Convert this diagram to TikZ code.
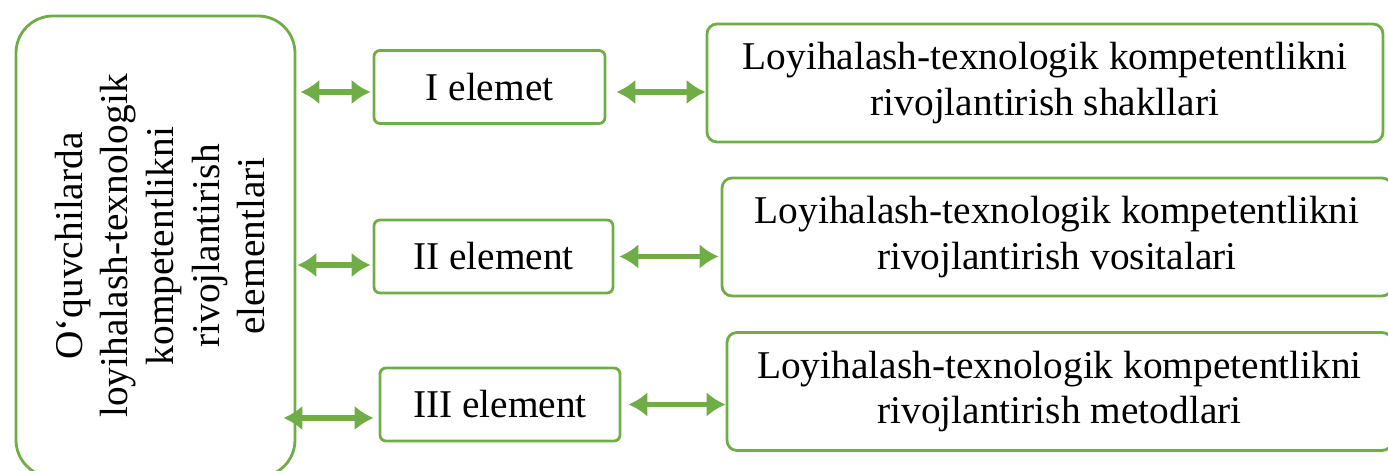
\documentclass[tikz,border=0pt]{standalone}
\usepackage{fontspec}
\setmainfont{Liberation Serif}
\usetikzlibrary{arrows.meta}
\definecolor{green}{RGB}{112,173,71}

\begin{document}
\begin{tikzpicture}[
    font=\fontsize{11.2}{13}\selectfont,
    mainbox/.style={draw=green, line width=0.8pt, rounded corners=0.37cm, minimum width=2.79cm, minimum height=4.61cm},
    elembox/.style={draw=green, line width=0.8pt, rounded corners=0.06cm, minimum height=0.73cm},
    waybox/.style={draw=green, line width=0.8pt, rounded corners=0.1cm, minimum height=1.18cm, align=center},
    link/.style={green, line width=1.6pt, {Latex[length=0.19cm,width=0.25cm]}-{Latex[length=0.19cm,width=0.25cm]}}
]
    \useasboundingbox (0,0) rectangle (13.88,4.71);
    % left column
    \node[mainbox] (main) at (1.555,2.245) {};
    \node[rotate=90, align=center] (maintext) at (1.60,2.25) {O‘quvchilarda\\loyihalash-texnologik\\kompetentlikni\\rivojlantirish\\elementlari};
    % elements
    \node[elembox, minimum width=2.31cm] (el1) at (4.895,3.84) {I elemet};
    \node[elembox, minimum width=2.39cm] (el2) at (4.935,2.145) {II element};
    \node[elembox, minimum width=2.40cm] (el3) at (5.00,0.665) {III element};
    % forms, tools, methods
    \node[waybox, minimum width=6.76cm] (way1) at (10.45,3.88) {Loyihalash-texnologik kompetentlikni\\rivojlantirish shakllari};
    \node[waybox, minimum width=6.70cm] (way2) at (10.57,2.34) {Loyihalash-texnologik kompetentlikni\\rivojlantirish vositalari};
    \node[waybox, minimum width=6.65cm] (way3) at (10.595,0.795) {Loyihalash-texnologik kompetentlikni\\rivojlantirish metodlari};
    % arrows
    \coordinate (row1) at ([yshift=-0.05cm]el1.west);
    \coordinate (row2) at ([yshift=-0.085cm]el2.west);
    \coordinate (row3) at ([yshift=-0.135cm]el3.west);
    \draw[link, shorten <=0.04cm, shorten >=0.02cm] (row1 -| main.east) -- (row1);
    \draw[link, shorten <=0.01cm, shorten >=0.02cm] (row2 -| main.east) -- (row2);
    \draw[link, shorten <=-0.13cm, shorten >=0.05cm] (row3 -| main.east) -- (row3);
    \draw[link, shorten <=0.1cm] (el1.east |- row1) -- (row1 -| way1.west);
    \draw[link, shorten <=0.05cm, shorten >=0.02cm] (el2.east) -- (el2.east -| way2.west);
    \draw[link, shorten <=0.07cm] (el3.east) -- (el3.east -| way3.west);
\end{tikzpicture}
\end{document}
